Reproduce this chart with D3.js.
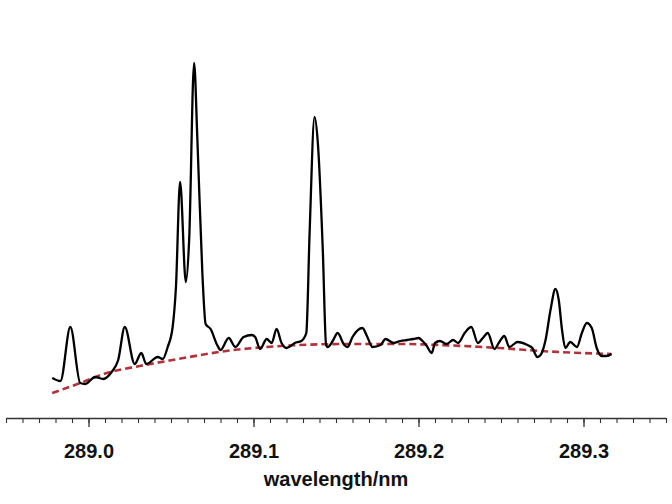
<!DOCTYPE html>
<html>
<head>
<meta charset="utf-8">
<script src="https://cdn.jsdelivr.net/npm/d3@7"></script>
<style>
  body { margin: 0; background: #fff; }
  svg { display: block; }
  .tick text { font-family: "Liberation Sans", Arial, sans-serif; font-weight: bold; }
</style>
</head>
<body>
<div id="chartDiv"></div>
<script>
// spectrum (wavelength in nm, intensity in a.u.)
var wavelength = [288.978, 288.983, 288.989, 288.995, 288.998, 289.004, 289.009, 289.014, 289.018, 289.022,
  289.028, 289.032, 289.035, 289.042, 289.045, 289.048, 289.051, 289.053, 289.0555, 289.059,
  289.061, 289.064, 289.066, 289.069, 289.071, 289.074, 289.078, 289.080, 289.085, 289.089,
  289.094, 289.099, 289.101, 289.104, 289.108, 289.111, 289.114, 289.117, 289.120, 289.125,
  289.129, 289.132, 289.134, 289.137, 289.139, 289.142, 289.144, 289.145, 289.148, 289.151,
  289.155, 289.157, 289.160, 289.166, 289.169, 289.172, 289.177, 289.180, 289.185, 289.189,
  289.193, 289.197, 289.200, 289.203, 289.205, 289.208, 289.210, 289.213, 289.217, 289.221,
  289.224, 289.228, 289.232, 289.236, 289.239, 289.242, 289.246, 289.249, 289.252, 289.255,
  289.260, 289.266, 289.269, 289.272, 289.274, 289.277, 289.280, 289.283, 289.285, 289.287,
  289.289, 289.292, 289.296, 289.299, 289.302, 289.305, 289.308, 289.311, 289.314, 289.317];
var intensity = [40, 37, 91, 35, 34, 41, 39, 46, 58, 91,
  54, 65, 54, 61, 59, 71, 91, 131, 236, 136,
  178, 355, 278, 145, 94, 89, 73, 68, 80, 71,
  81, 83, 81, 69, 79, 75, 89, 75, 70, 75,
  77, 85, 185, 301, 275, 168, 73, 71, 77, 85,
  73, 71, 81, 90, 81, 71, 73, 79, 75, 77,
  78, 79, 80, 76, 72, 65, 75, 77, 74, 78,
  75, 85, 91, 75, 80, 85, 69, 76, 82, 71,
  76, 73, 70, 61, 63, 78, 108, 129, 118, 88,
  70, 76, 71, 85, 95, 90, 70, 62, 62, 64];

// fitted background (dashed red)
var bgWavelength = [288.978, 288.995, 289.011, 289.031, 289.051, 289.088, 289.108, 289.128,
  289.158, 289.189, 289.213, 289.249, 289.274, 289.317];
var bgIntensity = [25, 35, 45, 52, 58, 68, 71, 73, 74, 74, 73, 70, 67, 64];

var majorTicks = [289.0, 289.1, 289.2, 289.3];
var tickLabels = ["289.0", "289.1", "289.2", "289.3"];
var xLabel = "wavelength/nm";

var width = 672, height = 504;
var axis_y = 418;

var svg = d3.select("#chartDiv").append("svg")
    .attr("width", width)
    .attr("height", height);

var x_scale = d3.scaleLinear()
    .domain([288.95, 289.35])
    .range([6, 666]);

var y_scale = d3.scaleLinear()
    .domain([0, 370])
    .range([axis_y, 48]);

var minorTicks = d3.range(0, 41).map(function(i){ return +(288.95 + i * 0.01).toFixed(2); });

// minor ticks + axis line
svg.append("g")
    .attr("transform", "translate(0," + axis_y + ")")
    .call(d3.axisBottom(x_scale).tickValues(minorTicks).tickSize(5).tickSizeOuter(0).tickFormat(""))
    .call(function(g){
      g.select(".domain").attr("stroke", "#333").attr("stroke-width", 1.3);
      g.selectAll(".tick line").attr("stroke", "#333").attr("stroke-width", 1.1);
    });

// major ticks with labels
svg.append("g")
    .attr("transform", "translate(0," + axis_y + ")")
    .call(d3.axisBottom(x_scale).tickValues(majorTicks).tickSize(9).tickSizeOuter(0)
      .tickFormat(function(d, i){ return tickLabels[i]; }))
    .call(function(g){
      g.select(".domain").remove();
      g.selectAll(".tick line").attr("stroke", "#333").attr("stroke-width", 1.3);
      g.selectAll(".tick text")
        .attr("y", 40).attr("dy", 0)
        .attr("fill", "#111")
        .style("font-size", "20px");
    });

svg.append("text")
    .attr("x", 336)
    .attr("y", 486)
    .attr("text-anchor", "middle")
    .style("font-family", "'Liberation Sans', Arial, sans-serif")
    .style("font-weight", "bold")
    .style("font-size", "20px")
    .attr("fill", "#111")
    .text(xLabel);

var bgLine = d3.line()
    .x(function(d, i){ return x_scale(bgWavelength[i]); })
    .y(function(d){ return y_scale(d); })
    .curve(d3.curveMonotoneX);

svg.append("path")
    .datum(bgIntensity)
    .attr("d", bgLine)
    .attr("fill", "none")
    .attr("stroke", "#b3323a")
    .attr("stroke-width", 2.6)
    .attr("stroke-dasharray", "7,4");

var specLine = d3.line()
    .x(function(d, i){ return x_scale(wavelength[i]); })
    .y(function(d){ return y_scale(d); })
    .curve(d3.curveMonotoneX);

svg.append("path")
    .datum(intensity)
    .attr("d", specLine)
    .attr("fill", "none")
    .attr("stroke", "#000")
    .attr("stroke-width", 2.3)
    .attr("stroke-linejoin", "round");
</script>
</body>
</html>
